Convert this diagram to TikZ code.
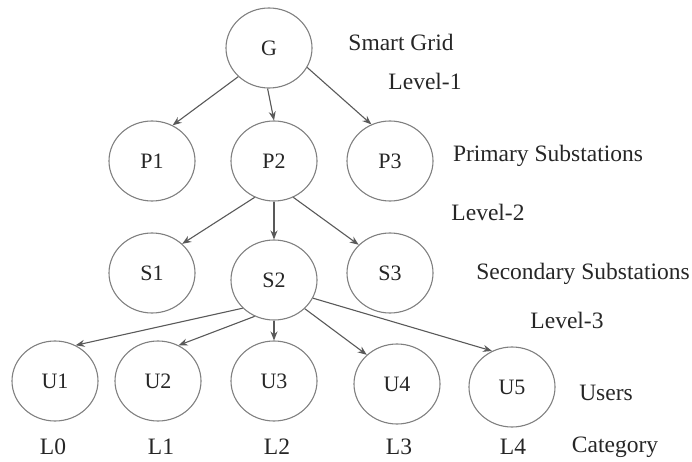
\documentclass[tikz,border=0pt]{standalone}
\usepackage{fontspec}
\setmainfont{Liberation Serif}
\usetikzlibrary{shapes.geometric,arrows.meta}
\begin{document}
\begin{tikzpicture}[x=1pt,y=-1pt,
  vnode/.style={ellipse,draw=black!50,line width=1.1pt,minimum width=86pt,minimum height=80pt,inner sep=0pt,font=\fontsize{22}{26}\selectfont,text=black!85},
  lbl/.style={font=\fontsize{23.5}{28}\selectfont,text=black!85,inner sep=0pt},
  edge/.style={draw=black!65,line width=1.1pt,-{Stealth[length=9pt,width=7pt]}}]
\useasboundingbox (0,0) rectangle (692,462);
\node[vnode] (G)  at (269,48) {G};
\node[vnode] (P1) at (152,161) {P1};
\node[vnode] (P2) at (274,161) {P2};
\node[vnode] (P3) at (390,161) {P3};
\node[vnode] (S1) at (152,273) {S1};
\node[vnode] (S2) at (274,280) {S2};
\node[vnode] (S3) at (390,273) {S3};
\node[vnode] (U1) at (55,381) {U1};
\node[vnode] (U2) at (158,381) {U2};
\node[vnode] (U3) at (274,381) {U3};
\node[vnode] (U4) at (397,384) {U4};
\node[vnode] (U5) at (512,387) {U5};
\draw[edge] (G.223) -- (P1.60);
\draw[edge] (G.268) -- (P2.90);
\draw[edge] (G.333) -- (P3.117);
\draw[edge] (P2.242) -- (S1.44);
\draw[edge] (P2.270) -- (S2.90);
\draw[edge] (P2.298) -- (S3.138);
\draw[edge] (S2.222) -- (U1.60);
\draw[edge] (S2.242) -- (U2.60);
\draw[edge] (S2.270) -- (U3.90);
\draw[edge] (S2.317) -- (U4.136);
\draw[edge] (S2.335) -- (U5.119);
\node[lbl] (t1) at (401,42) {Smart Grid};
\node[lbl] (t2) at (425,81) {Level-1};
\node[lbl] (t3) at (548,156) {Primary Substations};
\node[lbl] (t4) at (488,212) {Level-2};
\node[lbl] (t5) at (583,274) {Secondary Substations};
\node[lbl] (t6) at (567,320) {Level-3};
\node[lbl] (t7) at (606,393) {Users};
\node[lbl] (c0) at (53,447) {L0};
\node[lbl] (c1) at (161,447) {L1};
\node[lbl] (c2) at (277,447) {L2};
\node[lbl] (c3) at (399,447) {L3};
\node[lbl] (c4) at (513,447) {L4};
\node[lbl] (t8) at (615,447) {Category};
\end{tikzpicture}
\end{document}
